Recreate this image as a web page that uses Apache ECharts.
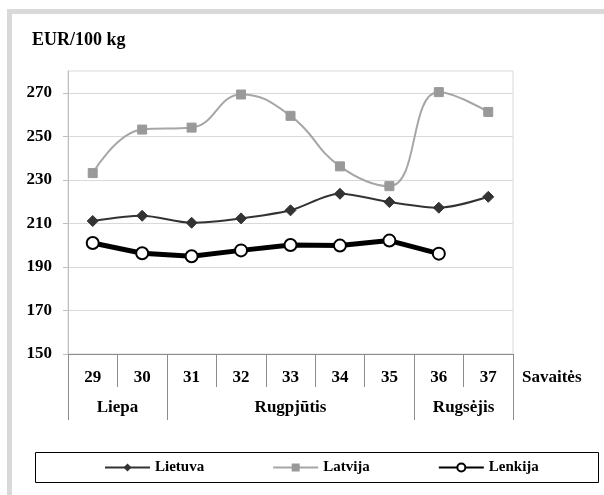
<!DOCTYPE html>
<html>
<head>
<meta charset="utf-8">
<script src="https://cdn.jsdelivr.net/npm/echarts@6/dist/echarts.min.js"></script>
<style>
html,body{margin:0;padding:0;background:#fff;}
#c{width:604px;height:495px;}
</style>
</head>
<body>
<div id="c"></div>
<script>
var weeks = ['29','30','31','32','33','34','35','36','37'];
var months = ['Liepa','Rugpjūtis','Rugsėjis'];
var monthWeekCounts = [2,5,2];
var yTicks = [150,170,190,210,230,250,270];
var lietuva = [211.1,213.5,210.3,212.3,216.0,223.6,219.8,217.2,222.2];
var latvija = [233.1,253.1,254.0,269.2,259.4,236.2,227.1,270.3,261.2];
var lenkija = [201.0,196.3,194.9,197.6,200.1,199.8,202.1,196.1,null];

var FONT = '"Liberation Serif","Times New Roman",serif';
var monthBounds = [0];
var monthCenters = [];
monthWeekCounts.forEach(function(n,i){
  var s = monthBounds[monthBounds.length-1];
  monthCenters.push(s + n/2);
  monthBounds.push(s + n);
});

var chart = echarts.init(document.getElementById('c'));
chart.setOption({
  animation:false,
  backgroundColor:'#fff',
  graphic:[
    {type:'rect', shape:{x:7,y:9,width:597,height:5}, style:{fill:'#d9d9d9'}},
    {type:'rect', shape:{x:7,y:9,width:5,height:486}, style:{fill:'#d9d9d9'}},
    {type:'rect', shape:{x:35.5,y:452.5,width:563,height:30}, style:{fill:'#fff',stroke:'#000',lineWidth:1}, z:-1}
  ],
  title:{
    text:'EUR/100 kg', left:27, top:26,
    textStyle:{fontFamily:FONT,fontWeight:'bold',fontSize:18,color:'#000'}
  },
  legend:{
    left:99, top:455, itemWidth:45, itemHeight:10, itemGap:68,
    textStyle:{fontFamily:FONT,fontWeight:'bold',fontSize:15,color:'#000'},
    data:['Lietuva','Latvija','Lenkija']
  },
  grid:{left:68,right:91,top:71,bottom:141,show:true,borderColor:'#d9d9d9',borderWidth:1,backgroundColor:'transparent'},
  xAxis:[
    {
      type:'category', data:weeks, boundaryGap:true, position:'bottom',
      name:'Savaitės', nameLocation:'end', nameGap:9,
      nameTextStyle:{fontFamily:FONT,fontWeight:'bold',fontSize:17,color:'#000',verticalAlign:'top',padding:[15,0,0,0]},
      axisLine:{lineStyle:{color:'#8c8c8c',width:1}},
      axisTick:{show:true,interval:0,length:33,lineStyle:{color:'#8c8c8c'}},
      axisLabel:{interval:0,margin:15,fontFamily:FONT,fontWeight:'bold',fontSize:17,color:'#000'},
      splitLine:{show:false}
    },
    {
      type:'value', min:0, max:monthBounds[monthBounds.length-1], position:'bottom',
      axisLine:{show:false},
      splitLine:{show:false},
      axisTick:{show:true,customValues:monthBounds,length:66,lineStyle:{color:'#8c8c8c'}},
      axisLabel:{customValues:monthCenters,margin:45,fontFamily:FONT,fontWeight:'bold',fontSize:17,color:'#000',
        formatter:function(v){var i=monthCenters.indexOf(v);return i>=0?months[i]:'';}}
    }
  ],
  yAxis:{
    type:'value', min:150, max:280,
    axisLine:{show:true,lineStyle:{color:'#bfbfbf'}},
    axisTick:{show:true,customValues:yTicks,length:5,lineStyle:{color:'#bfbfbf'}},
    axisLabel:{customValues:yTicks,margin:16,fontFamily:FONT,fontWeight:'bold',fontSize:17,color:'#000'},
    splitLine:{show:true,lineStyle:{color:'#d9d9d9',width:1}}
  },
  series:[
    {
      name:'Lietuva', type:'line', data:lietuva, smooth:0.3,
      symbol:'diamond', symbolSize:11,
      lineStyle:{color:'#333',width:2},
      itemStyle:{color:'#333',borderColor:'#333'}
    },
    {
      name:'Latvija', type:'line', data:latvija, smooth:0.45,
      symbol:'rect', symbolSize:9,
      lineStyle:{color:'#a6a6a6',width:2},
      itemStyle:{color:'#999',borderColor:'#999'}
    },
    {
      name:'Lenkija', type:'line', data:lenkija, smooth:false,
      symbol:'circle', symbolSize:12,
      lineStyle:{color:'#000',width:5},
      itemStyle:{color:'#fff',borderColor:'#000',borderWidth:2}
    }
  ]
});
</script>
</body>
</html>
